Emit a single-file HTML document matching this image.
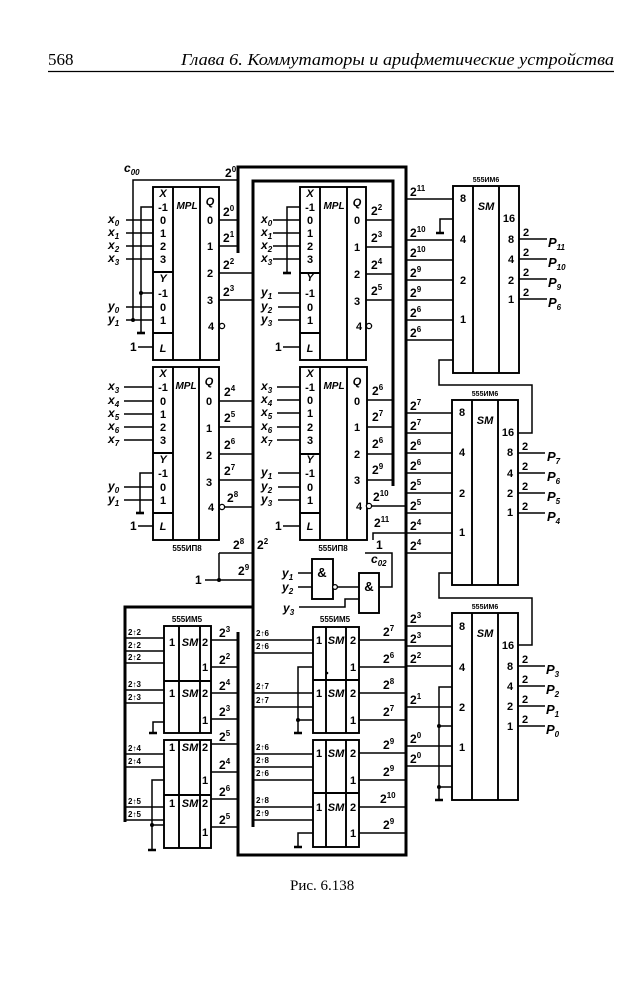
<!DOCTYPE html>
<html><head><meta charset="utf-8"><style>
html,body{margin:0;padding:0;background:#fff;width:631px;height:1000px;overflow:hidden}
svg{display:block;font-family:"Liberation Sans","DejaVu Sans",sans-serif;font-size:12px;font-weight:bold;fill:#000}
.l{stroke:#000;stroke-width:1.5;fill:none}
.b{stroke:#000;stroke-width:1.9;fill:none}
.t{stroke:#000;stroke-width:3;fill:none}
.g{stroke:#000;stroke-width:2.6;fill:none}
.o{fill:#fff;stroke:#000;stroke-width:1.3}
text.h{font-family:"Liberation Serif",serif;font-weight:normal;font-size:17px}
</style></head><body>
<svg width="631" height="1000" viewBox="0 0 631 1000" xmlns="http://www.w3.org/2000/svg">
<!-- header -->
<text class="h" x="48" y="65">568</text>
<text class="h" x="181" y="65" font-style="italic" textLength="433" lengthAdjust="spacingAndGlyphs">Глава 6.  Коммутаторы и арифметические устройства</text>
<path d="M48 71.5H614" stroke="#000" stroke-width="1.3"/>
<text class="h" x="290" y="890" style="font-size:15px">Рис. 6.138</text>

<!-- thick frames -->
<path class="t" d="M238 253V167H406V855H238V632"/>
<path class="t" d="M125 822V607H253"/>
<path class="t" d="M253 827V181H393V486"/>

<!-- ===== Block A (top-left MPL) ===== -->
<rect class="b" x="153" y="187" width="66" height="173"/>
<path class="b" d="M173 187V360M200 187V360M153 272H173M153 333H173"/>
<g text-anchor="middle" font-size="11">
<text x="163" y="197" font-style="italic">X</text><text x="163" y="211">-1</text><text x="163" y="224">0</text><text x="163" y="237">1</text><text x="163" y="250">2</text><text x="163" y="263">3</text>
<text x="163" y="282" font-style="italic">Y</text><text x="163" y="297">-1</text><text x="163" y="311">0</text><text x="163" y="324">1</text><text x="163" y="352" font-style="italic">L</text>
<text x="210" y="205" font-style="italic">Q</text><text x="210" y="224">0</text><text x="210" y="250">1</text><text x="210" y="277">2</text><text x="210" y="304">3</text><text x="211" y="330">4</text>
<text x="187" y="209" font-style="italic" font-size="10">MPL</text>
</g>
<path class="l" d="M126 220H153M126 233H153M126 246H153M126 259H153M153 207H141V333M141 293H153M126 307H153M126 320H153M133 320V180H238M138 347H153M219 220H238M219 246H238M219 273H252M219 300H252"/>
<path class="g" d="M137 333H145"/>
<circle cx="141" cy="293" r="2"/><circle cx="133" cy="320" r="2"/>
<circle class="o" cx="222" cy="326" r="2.6"/>
<text x="124" y="172" font-style="italic">c<tspan font-size="8" dy="3">00</tspan></text>
<text x="225" y="177">2<tspan font-size="8" dy="-5">0</tspan></text>
<g font-style="italic">
<text x="108" y="223">x<tspan font-size="8" dy="3">0</tspan></text>
<text x="108" y="236">x<tspan font-size="8" dy="3">1</tspan></text>
<text x="108" y="249">x<tspan font-size="8" dy="3">2</tspan></text>
<text x="108" y="262">x<tspan font-size="8" dy="3">3</tspan></text>
<text x="108" y="310">y<tspan font-size="8" dy="3">0</tspan></text>
<text x="108" y="323">y<tspan font-size="8" dy="3">1</tspan></text>
</g>
<text x="130" y="351">1</text>
<text x="223" y="216">2<tspan font-size="8" dy="-5">0</tspan></text>
<text x="223" y="242">2<tspan font-size="8" dy="-5">1</tspan></text>
<text x="223" y="269">2<tspan font-size="8" dy="-5">2</tspan></text>
<text x="223" y="296">2<tspan font-size="8" dy="-5">3</tspan></text>

<!-- ===== Block B (mid-left MPL) ===== -->
<rect class="b" x="153" y="367" width="66" height="173"/>
<path class="b" d="M173 367V540M199 367V540M153 453H173M153 513H173"/>
<g text-anchor="middle" font-size="11">
<text x="163" y="377" font-style="italic">X</text><text x="163" y="391">-1</text><text x="163" y="405">0</text><text x="163" y="418">1</text><text x="163" y="431">2</text><text x="163" y="444">3</text>
<text x="163" y="463" font-style="italic">Y</text><text x="163" y="477">-1</text><text x="163" y="491">0</text><text x="163" y="504">1</text><text x="163" y="530" font-style="italic">L</text>
<text x="209" y="385" font-style="italic">Q</text><text x="209" y="405">0</text><text x="209" y="432">1</text><text x="209" y="459">2</text><text x="209" y="486">3</text><text x="211" y="511">4</text>
<text x="186" y="389" font-style="italic" font-size="10">MPL</text>
<text x="187" y="551" font-size="8">555ИП8</text>
</g>
<path class="l" d="M124 387H153M124 401H153M124 414H153M124 427H153M124 440H153M153 473H140V513M124 487H153M124 500H153M138 526H153M219 401H252M219 427H252M219 454H252M219 480H252M224 507H252M219 553H252M219 553V580M205 580H252"/>
<path class="g" d="M136 513H144"/>
<circle class="o" cx="222" cy="507" r="2.6"/>
<circle cx="219" cy="580" r="2"/>
<g font-style="italic">
<text x="108" y="390">x<tspan font-size="8" dy="3">3</tspan></text>
<text x="108" y="404">x<tspan font-size="8" dy="3">4</tspan></text>
<text x="108" y="417">x<tspan font-size="8" dy="3">5</tspan></text>
<text x="108" y="430">x<tspan font-size="8" dy="3">6</tspan></text>
<text x="108" y="443">x<tspan font-size="8" dy="3">7</tspan></text>
<text x="108" y="490">y<tspan font-size="8" dy="3">0</tspan></text>
<text x="108" y="503">y<tspan font-size="8" dy="3">1</tspan></text>
</g>
<text x="130" y="530">1</text>
<text x="224" y="396">2<tspan font-size="8" dy="-5">4</tspan></text>
<text x="224" y="422">2<tspan font-size="8" dy="-5">5</tspan></text>
<text x="224" y="449">2<tspan font-size="8" dy="-5">6</tspan></text>
<text x="224" y="475">2<tspan font-size="8" dy="-5">7</tspan></text>
<text x="227" y="502">2<tspan font-size="8" dy="-5">8</tspan></text>
<text x="233" y="549">2<tspan font-size="8" dy="-5">8</tspan></text>
<text x="238" y="575">2<tspan font-size="8" dy="-5">9</tspan></text>
<text x="195" y="584">1</text>
<text x="257" y="549">2<tspan font-size="8" dy="-5">2</tspan></text>

<!-- ===== Block C (top-middle MPL) ===== -->
<rect class="b" x="300" y="187" width="66" height="173"/>
<path class="b" d="M320 187V360M347 187V360M300 273H320M300 333H320"/>
<g text-anchor="middle" font-size="11">
<text x="310" y="197" font-style="italic">X</text><text x="310" y="211">-1</text><text x="310" y="224">0</text><text x="310" y="237">1</text><text x="310" y="250">2</text><text x="310" y="263">3</text>
<text x="310" y="281" font-style="italic">Y</text><text x="310" y="297">-1</text><text x="310" y="311">0</text><text x="310" y="324">1</text><text x="310" y="352" font-style="italic">L</text>
<text x="357" y="206" font-style="italic">Q</text><text x="357" y="224">0</text><text x="357" y="251">1</text><text x="357" y="278">2</text><text x="357" y="305">3</text><text x="359" y="330">4</text>
<text x="334" y="209" font-style="italic" font-size="10">MPL</text>
</g>
<path class="l" d="M273 220H300M273 233H300M273 246H300M273 259H300M300 207H287V273M278 293H300M278 307H300M278 320H300M283 347H300M366 220H393M366 247H393M366 274H393M366 300H393"/>
<path class="g" d="M283 273H291"/>
<circle class="o" cx="369" cy="326" r="2.6"/>
<g font-style="italic">
<text x="261" y="223">x<tspan font-size="8" dy="3">0</tspan></text>
<text x="261" y="236">x<tspan font-size="8" dy="3">1</tspan></text>
<text x="261" y="249">x<tspan font-size="8" dy="3">2</tspan></text>
<text x="261" y="262">x<tspan font-size="8" dy="3">3</tspan></text>
<text x="261" y="296">y<tspan font-size="8" dy="3">1</tspan></text>
<text x="261" y="310">y<tspan font-size="8" dy="3">2</tspan></text>
<text x="261" y="323">y<tspan font-size="8" dy="3">3</tspan></text>
</g>
<text x="275" y="351">1</text>
<text x="371" y="215">2<tspan font-size="8" dy="-5">2</tspan></text>
<text x="371" y="242">2<tspan font-size="8" dy="-5">3</tspan></text>
<text x="371" y="269">2<tspan font-size="8" dy="-5">4</tspan></text>
<text x="371" y="295">2<tspan font-size="8" dy="-5">5</tspan></text>

<!-- ===== Block D (mid-middle MPL) ===== -->
<rect class="b" x="300" y="367" width="67" height="173"/>
<path class="b" d="M320 367V540M347 367V540M300 454H320M300 513H320"/>
<g text-anchor="middle" font-size="11">
<text x="310" y="377" font-style="italic">X</text><text x="310" y="391">-1</text><text x="310" y="404">0</text><text x="310" y="417">1</text><text x="310" y="431">2</text><text x="310" y="444">3</text>
<text x="310" y="463" font-style="italic">Y</text><text x="310" y="477">-1</text><text x="310" y="491">0</text><text x="310" y="504">1</text><text x="310" y="530" font-style="italic">L</text>
<text x="357" y="385" font-style="italic">Q</text><text x="357" y="405">0</text><text x="357" y="431">1</text><text x="357" y="458">2</text><text x="357" y="484">3</text><text x="359" y="510">4</text>
<text x="334" y="389" font-style="italic" font-size="10">MPL</text>
<text x="333" y="551" font-size="8">555ИП8</text>
</g>
<path class="l" d="M277 387H300M277 400H300M277 413H300M277 427H300M277 440H300M278 473H300M278 487H300M278 500H300M283 526H300M367 400H393M367 427H393M367 454H393M367 480H393M371 506H406M373 540V533H406"/>
<circle class="o" cx="369" cy="506" r="2.6"/>
<g font-style="italic">
<text x="261" y="390">x<tspan font-size="8" dy="3">3</tspan></text>
<text x="261" y="403">x<tspan font-size="8" dy="3">4</tspan></text>
<text x="261" y="416">x<tspan font-size="8" dy="3">5</tspan></text>
<text x="261" y="430">x<tspan font-size="8" dy="3">6</tspan></text>
<text x="261" y="443">x<tspan font-size="8" dy="3">7</tspan></text>
<text x="261" y="476">y<tspan font-size="8" dy="3">1</tspan></text>
<text x="261" y="490">y<tspan font-size="8" dy="3">2</tspan></text>
<text x="261" y="503">y<tspan font-size="8" dy="3">3</tspan></text>
</g>
<text x="275" y="530">1</text>
<text x="372" y="395">2<tspan font-size="8" dy="-5">6</tspan></text>
<text x="372" y="421">2<tspan font-size="8" dy="-5">7</tspan></text>
<text x="372" y="448">2<tspan font-size="8" dy="-5">6</tspan></text>
<text x="372" y="474">2<tspan font-size="8" dy="-5">9</tspan></text>
<text x="373" y="501">2<tspan font-size="8" dy="-5">10</tspan></text>
<text x="374" y="527">2<tspan font-size="8" dy="-5">11</tspan></text>
<text x="376" y="549">1</text>

<!-- ===== gates ===== -->
<rect class="b" x="312" y="559" width="21" height="40"/>
<rect class="b" x="359" y="573" width="20" height="40"/>
<text x="322" y="577" text-anchor="middle" font-size="13">&amp;</text>
<text x="369" y="591" text-anchor="middle" font-size="13">&amp;</text>
<path class="l" d="M298 573H312M298 587H312M337 587H359M299 607H345V599H359M379 587H392V553H365"/>
<circle class="o" cx="335" cy="587" r="2.4"/>
<g font-style="italic">
<text x="282" y="577">y<tspan font-size="8" dy="3">1</tspan></text>
<text x="282" y="591">y<tspan font-size="8" dy="3">2</tspan></text>
<text x="283" y="612">y<tspan font-size="8" dy="3">3</tspan></text>
<text x="371" y="563">c<tspan font-size="8" dy="3">02</tspan></text>
</g>

<!-- ===== right bus labels / lines ===== -->
<path class="l" d="M406 199H453M406 240H453M406 260H453M406 280H453M406 300H453M406 320H453M406 340H453M453 219H440V233
M406 413H452M406 433H452M406 453H452M406 473H452M406 493H452M406 513H452M406 533H452M406 553H452
M406 626H452M406 646H452M406 666H452M406 707H452M406 746H452M406 766H452M452 687H439V800M439 726H452M439 787H452
M518 433H532V385H439V360H453M452 573H439V598H532V645H518
M519 239H547M519 259H547M519 279H547M519 299H547
M518 453H545M518 473H545M518 493H545M518 513H545
M518 666H545M518 686H545M518 706H545M518 726H545"/>
<path class="g" d="M436 233H444M435 800H443"/>
<circle cx="439" cy="726" r="2"/><circle cx="439" cy="787" r="2"/>
<g>
<text x="410" y="196">2<tspan font-size="8" dy="-5">11</tspan></text>
<text x="410" y="237">2<tspan font-size="8" dy="-5">10</tspan></text>
<text x="410" y="257">2<tspan font-size="8" dy="-5">10</tspan></text>
<text x="410" y="277">2<tspan font-size="8" dy="-5">9</tspan></text>
<text x="410" y="297">2<tspan font-size="8" dy="-5">9</tspan></text>
<text x="410" y="317">2<tspan font-size="8" dy="-5">6</tspan></text>
<text x="410" y="337">2<tspan font-size="8" dy="-5">6</tspan></text>
<text x="410" y="410">2<tspan font-size="8" dy="-5">7</tspan></text>
<text x="410" y="430">2<tspan font-size="8" dy="-5">7</tspan></text>
<text x="410" y="450">2<tspan font-size="8" dy="-5">6</tspan></text>
<text x="410" y="470">2<tspan font-size="8" dy="-5">6</tspan></text>
<text x="410" y="490">2<tspan font-size="8" dy="-5">5</tspan></text>
<text x="410" y="510">2<tspan font-size="8" dy="-5">5</tspan></text>
<text x="410" y="530">2<tspan font-size="8" dy="-5">4</tspan></text>
<text x="410" y="550">2<tspan font-size="8" dy="-5">4</tspan></text>
<text x="410" y="623">2<tspan font-size="8" dy="-5">3</tspan></text>
<text x="410" y="643">2<tspan font-size="8" dy="-5">3</tspan></text>
<text x="410" y="663">2<tspan font-size="8" dy="-5">2</tspan></text>
<text x="410" y="704">2<tspan font-size="8" dy="-5">1</tspan></text>
<text x="410" y="743">2<tspan font-size="8" dy="-5">0</tspan></text>
<text x="410" y="763">2<tspan font-size="8" dy="-5">0</tspan></text>
</g>

<!-- ===== SM A ===== -->
<rect class="b" x="453" y="186" width="66" height="187"/>
<path class="b" d="M473 186V373M499 186V373"/>
<g text-anchor="middle" font-size="11">
<text x="486" y="182" font-size="7">555ИМ6</text>
<text x="463" y="202">8</text><text x="463" y="243">4</text><text x="463" y="284">2</text><text x="463" y="323">1</text>
<text x="486" y="210" font-style="italic">SM</text>
<text x="509" y="222">16</text><text x="511" y="243">8</text><text x="511" y="263">4</text><text x="511" y="284">2</text><text x="511" y="303">1</text>
<text x="526" y="236">2</text><text x="526" y="256">2</text><text x="526" y="276">2</text><text x="526" y="296">2</text>
</g>
<g font-style="italic" font-size="13">
<text x="548" y="247">P<tspan font-size="8" dy="3">11</tspan></text>
<text x="548" y="267">P<tspan font-size="8" dy="3">10</tspan></text>
<text x="548" y="287">P<tspan font-size="8" dy="3">9</tspan></text>
<text x="548" y="307">P<tspan font-size="8" dy="3">6</tspan></text>
</g>

<!-- ===== SM B ===== -->
<rect class="b" x="452" y="400" width="66" height="185"/>
<path class="b" d="M472 400V585M498 400V585"/>
<g text-anchor="middle" font-size="11">
<text x="485" y="396" font-size="7">555ИМ6</text>
<text x="462" y="416">8</text><text x="462" y="456">4</text><text x="462" y="497">2</text><text x="462" y="536">1</text>
<text x="485" y="424" font-style="italic">SM</text>
<text x="508" y="436">16</text><text x="510" y="456">8</text><text x="510" y="477">4</text><text x="510" y="497">2</text><text x="510" y="516">1</text>
<text x="525" y="450">2</text><text x="525" y="470">2</text><text x="525" y="490">2</text><text x="525" y="510">2</text>
</g>
<g font-style="italic" font-size="13">
<text x="547" y="461">P<tspan font-size="8" dy="3">7</tspan></text>
<text x="547" y="481">P<tspan font-size="8" dy="3">6</tspan></text>
<text x="547" y="501">P<tspan font-size="8" dy="3">5</tspan></text>
<text x="547" y="521">P<tspan font-size="8" dy="3">4</tspan></text>
</g>

<!-- ===== SM C ===== -->
<rect class="b" x="452" y="613" width="66" height="187"/>
<path class="b" d="M472 613V800M498 613V800"/>
<g text-anchor="middle" font-size="11">
<text x="485" y="609" font-size="7">555ИМ6</text>
<text x="462" y="630">8</text><text x="462" y="671">4</text><text x="462" y="711">2</text><text x="462" y="751">1</text>
<text x="485" y="637" font-style="italic">SM</text>
<text x="508" y="649">16</text><text x="510" y="670">8</text><text x="510" y="690">4</text><text x="510" y="710">2</text><text x="510" y="730">1</text>
<text x="525" y="663">2</text><text x="525" y="683">2</text><text x="525" y="703">2</text><text x="525" y="723">2</text>
</g>
<g font-style="italic" font-size="13">
<text x="546" y="674">P<tspan font-size="8" dy="3">3</tspan></text>
<text x="546" y="694">P<tspan font-size="8" dy="3">2</tspan></text>
<text x="546" y="714">P<tspan font-size="8" dy="3">1</tspan></text>
<text x="546" y="734">P<tspan font-size="8" dy="3">0</tspan></text>
</g>

<!-- ===== bottom-left SM (555ИМ5) ===== -->
<text x="187" y="622" text-anchor="middle" font-size="8">555ИМ5</text>
<rect class="b" x="164" y="626" width="47" height="107"/>
<rect class="b" x="164" y="740" width="47" height="108"/>
<path class="b" d="M179 626V733M200 626V733M164 681H211M179 740V848M200 740V848M164 795H211"/>
<g text-anchor="middle" font-size="11">
<text x="172" y="646">1</text><text x="190" y="646" font-style="italic">SM</text><text x="205" y="646">2</text><text x="205" y="671">1</text>
<text x="172" y="697">1</text><text x="190" y="697" font-style="italic">SM</text><text x="205" y="697">2</text><text x="205" y="724">1</text>
<text x="172" y="751">1</text><text x="190" y="751" font-style="italic">SM</text><text x="205" y="751">2</text><text x="205" y="784">1</text>
<text x="172" y="807">1</text><text x="190" y="807" font-style="italic">SM</text><text x="205" y="807">2</text><text x="205" y="836">1</text>
</g>
<path class="l" d="M211 640H238M211 667H238M211 693H238M211 719H238M211 744H238M211 772H238M211 799H238M211 827H238
M125 638H164M125 651H164M125 663H164M125 690H164M125 703H164M164 722H153V733
M125 754H164M125 767H164M125 807H164M125 820H164M164 780H152V850M152 825H164"/>
<path class="g" d="M149 733H157M148 850H156"/>
<circle cx="152" cy="825" r="2"/>
<g font-size="8">
<text x="128" y="635">2↑2</text><text x="128" y="648">2↑2</text><text x="128" y="660">2↑2</text>
<text x="128" y="687">2↑3</text><text x="128" y="700">2↑3</text>
<text x="128" y="751">2↑4</text><text x="128" y="764">2↑4</text>
<text x="128" y="804">2↑5</text><text x="128" y="817">2↑5</text>
</g>
<text x="219" y="637">2<tspan font-size="8" dy="-5">3</tspan></text>
<text x="219" y="664">2<tspan font-size="8" dy="-5">2</tspan></text>
<text x="219" y="690">2<tspan font-size="8" dy="-5">4</tspan></text>
<text x="219" y="716">2<tspan font-size="8" dy="-5">3</tspan></text>
<text x="219" y="741">2<tspan font-size="8" dy="-5">5</tspan></text>
<text x="219" y="769">2<tspan font-size="8" dy="-5">4</tspan></text>
<text x="219" y="796">2<tspan font-size="8" dy="-5">6</tspan></text>
<text x="219" y="824">2<tspan font-size="8" dy="-5">5</tspan></text>

<!-- ===== bottom-middle SM (555ИМ5) ===== -->
<text x="335" y="622" text-anchor="middle" font-size="8">555ИМ5</text>
<rect class="b" x="313" y="627" width="46" height="106"/>
<rect class="b" x="313" y="740" width="46" height="107"/>
<path class="b" d="M326 627V733M346 627V733M313 680H359M326 740V847M346 740V847M313 793H359"/>
<g text-anchor="middle" font-size="11">
<text x="319" y="644">1</text><text x="336" y="644" font-style="italic">SM</text><text x="353" y="644">2</text><text x="353" y="671">1</text>
<text x="319" y="697">1</text><text x="336" y="697" font-style="italic">SM</text><text x="353" y="697">2</text><text x="353" y="724">1</text>
<text x="319" y="757">1</text><text x="336" y="757" font-style="italic">SM</text><text x="353" y="757">2</text><text x="353" y="784">1</text>
<text x="319" y="811">1</text><text x="336" y="811" font-style="italic">SM</text><text x="353" y="811">2</text><text x="353" y="837">1</text>
</g>
<path class="l" d="M359 640H406M359 667H406M359 693H406M359 720H406M359 753H406M359 780H406M359 807H406M359 833H406
M253 640H313M253 653H313M253 693H313M253 707H313M313 667H298V733M298 720H313
M253 754H313M253 767H313M253 780H313M253 807H313M253 820H313M313 833H298V847"/>
<path class="g" d="M294 733H302M294 847H302"/>
<circle cx="298" cy="720" r="2"/><circle cx="327" cy="673" r="1.3"/>
<g font-size="8">
<text x="256" y="636">2↑6</text><text x="256" y="649">2↑6</text>
<text x="256" y="689">2↑7</text><text x="256" y="703">2↑7</text>
<text x="256" y="750">2↑6</text><text x="256" y="763">2↑8</text><text x="256" y="776">2↑6</text>
<text x="256" y="803">2↑8</text><text x="256" y="816">2↑9</text>
</g>
<text x="383" y="636">2<tspan font-size="8" dy="-5">7</tspan></text>
<text x="383" y="663">2<tspan font-size="8" dy="-5">6</tspan></text>
<text x="383" y="689">2<tspan font-size="8" dy="-5">8</tspan></text>
<text x="383" y="716">2<tspan font-size="8" dy="-5">7</tspan></text>
<text x="383" y="749">2<tspan font-size="8" dy="-5">9</tspan></text>
<text x="383" y="776">2<tspan font-size="8" dy="-5">9</tspan></text>
<text x="380" y="803">2<tspan font-size="8" dy="-5">10</tspan></text>
<text x="383" y="829">2<tspan font-size="8" dy="-5">9</tspan></text>
</svg>
</body></html>
